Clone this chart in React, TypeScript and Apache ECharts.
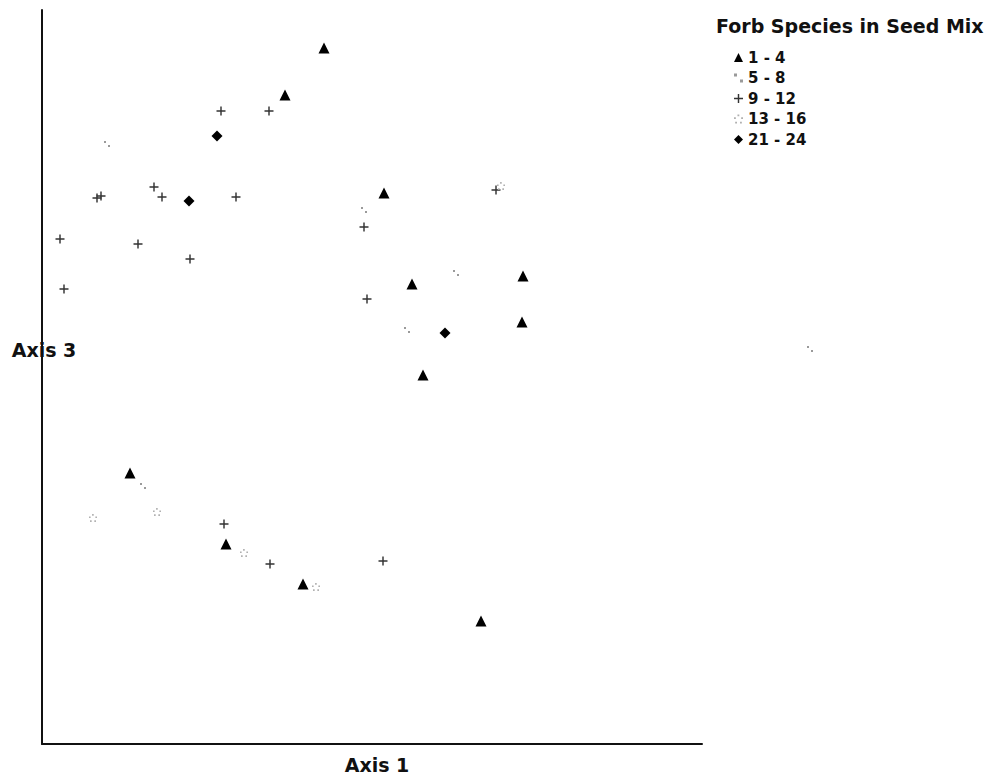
import React, { useEffect, useRef } from "react";
import * as echarts from "echarts";

// Values in plot units (Axis 1 horizontal, Axis 3 vertical)
const tri14: number[][] = [
  [282, 696], [243, 649], [342, 551], [370, 460], [481, 468], [480, 422],
  [381, 369], [88, 271], [184, 200], [261, 160], [439, 123],
];
const dots58: number[][] = [
  [65, 600], [322, 534], [414, 471], [365, 414], [101, 258], [768, 395],
];
const cross912: number[][] = [
  [179, 633], [227, 633], [55, 546], [59, 548], [112, 557], [120, 547],
  [194, 547], [18, 505], [96, 500], [148, 485], [22, 455], [322, 517],
  [454, 554], [325, 445], [182, 220], [228, 180], [341, 183],
];
const ring1316: number[][] = [
  [115, 232], [51, 226], [202, 191], [274, 157], [459, 558],
];
const diam2124: number[][] = [
  [175, 608], [147, 543], [403, 411],
];
const seriesNames: string[] = ["1 - 4", "5 - 8", "9 - 12", "13 - 16", "21 - 24"];
const legendTitle = "Forb Species in Seed Mix";
const xName = "Axis 1";
const yName = "Axis 3";
const xMax = 660;
const yMax = 734;

const FONT = "'DejaVu Sans', sans-serif";
const crossPath = "path://M0,4.2h10v1.6H0zM4.2,0h1.6v10H4.2z";
const dotsPath = "path://M0,0h2v2H0zM4,4h2v2H4z";
const ringPath =
  "path://M3,0h1.6v1.6H3zM6.2,2.4h1.6v1.6H6.2zM5.2,6.2h1.6v1.6H5.2zM1,6.2h1.6v1.6H1zM0,2.4h1.6v1.6H0z";

export default function App() {
  const ref = useRef<HTMLDivElement>(null);
  useEffect(() => {
    if (!ref.current) return;
    const chart = echarts.init(ref.current, undefined, { renderer: "svg" });
    const mk = (name: string, data: number[][], symbol: string, size: number, color: string) => ({
      name,
      type: "scatter",
      data,
      symbol,
      symbolSize: size,
      clip: false,
      z: 3,
      itemStyle: { color, opacity: 1 },
      emphasis: { disabled: true },
    });
    chart.setOption({
      animation: false,
      backgroundColor: "#ffffff",
      grid: { left: 42, top: 10, width: 660, height: 734 },
      xAxis: {
        type: "value",
        min: 0,
        max: xMax,
        z: 2,
        axisLine: { show: true, lineStyle: { color: "#111", width: 2 } },
        axisTick: { show: false },
        axisLabel: { show: false },
        splitLine: { show: false },
      },
      yAxis: {
        type: "value",
        min: 0,
        max: yMax,
        z: 2,
        axisLine: { show: true, lineStyle: { color: "#111", width: 2 } },
        axisTick: { show: false },
        axisLabel: { show: false },
        splitLine: { show: false },
      },
      legend: {
        orient: "vertical",
        left: 729,
        top: 45,
        itemWidth: 9,
        itemHeight: 9,
        itemGap: 5.5,
        selectedMode: false,
        textStyle: { fontFamily: FONT, fontSize: 15, fontWeight: "bold", color: "#111" },
        data: seriesNames,
      },
      series: [
        mk(seriesNames[0], tri14, "triangle", 11, "#000"),
        mk(seriesNames[1], dots58, dotsPath, 6, "#9a9a9a"),
        mk(seriesNames[2], cross912, crossPath, 9, "#333"),
        mk(seriesNames[3], ring1316, ringPath, 8, "#b0b0b0"),
        mk(seriesNames[4], diam2124, "diamond", 11, "#000"),
      ],
      graphic: [
        {
          type: "text",
          left: 716,
          top: 16,
          z: 0,
          style: { text: legendTitle, font: `bold 19px ${FONT}`, fill: "#111" },
        },
        {
          type: "text",
          x: 377,
          y: 765,
          z: 0,
          style: { text: xName, font: `bold 19px ${FONT}`, fill: "#111", align: "center", verticalAlign: "middle" },
        },
        {
          type: "text",
          x: 44,
          y: 350,
          z: 0,
          style: { text: yName, font: `bold 19px ${FONT}`, fill: "#111", align: "center", verticalAlign: "middle" },
        },
      ],
    });
    return () => chart.dispose();
  }, []);
  return (
    <div
      ref={ref}
      style={{ position: "fixed", left: 0, top: 0, width: 992, height: 781, background: "#fff" }}
    />
  );
}
